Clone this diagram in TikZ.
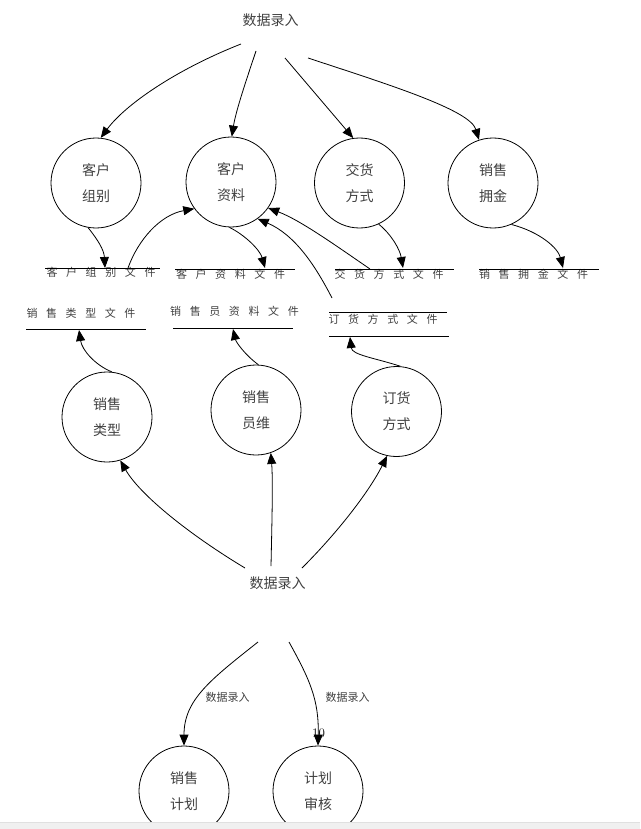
\documentclass[tikz,border=0pt]{standalone}
\usepackage{fontspec}
\newfontfamily\cjk{Noto Sans CJK SC}
\usepackage{xcolor}
\usepackage{tikz}
\usetikzlibrary{arrows.meta}
\newcommand\fgap{\hspace{8.6pt}}

\begin{document}
\begin{tikzpicture}[x=1pt,y=-1pt,>={Triangle[length=11pt,width=9pt]},line width=0.8pt,
  proc/.style={circle,draw,line width=0.8pt,minimum size=90pt,inner sep=0pt,align=center,
    font=\cjk\fontsize{14}{26}\selectfont,text=black!75},
  store/.style={font=\cjk\fontsize{11}{11}\selectfont,text=black!75,inner sep=0pt},
  src/.style={font=\cjk\fontsize{14}{14}\selectfont,text=black!75},
  flowlbl/.style={font=\cjk\fontsize{11}{11}\selectfont,text=black!75}]
  \useasboundingbox (0,0) rectangle (640,829);

  \node[src] (in1) at (270.5,20) {数据录入};
  \node[src] (in2) at (277.5,583) {数据录入};

  \node[proc] (zb) at (96,183) {客户\\组别};
  \node[proc] (zl) at (231,182) {客户\\资料};
  \node[proc] (jh) at (359.5,183) {交货\\方式};
  \node[proc] (yj) at (493,183) {销售\\拥金};
  \node[proc] (lx) at (107,417) {销售\\类型};
  \node[proc] (yy) at (256,410) {销售\\员维};
  \node[proc] (dh) at (396.5,411.5) {订货\\方式};
  \node[proc] (sj) at (184,791) {销售\\计划};
  \node[proc] (sh) at (318,791) {计划\\审核};

  \node[store] (fzb) at (101,272) {客\fgap 户\fgap 组\fgap 别\fgap 文\fgap 件};
  \node[store] (fzl) at (230.5,274) {客\fgap 户\fgap 资\fgap 料\fgap 文\fgap 件};
  \node[store] (fjh) at (389,274) {交\fgap 货\fgap 方\fgap 式\fgap 文\fgap 件};
  \node[store] (fyj) at (533.5,274) {销\fgap 售\fgap 拥\fgap 金\fgap 文\fgap 件};
  \node[store] (flx) at (81,313) {销\fgap 售\fgap 类\fgap 型\fgap 文\fgap 件};
  \node[store] (fyy) at (234.5,311) {销\fgap 售\fgap 员\fgap 资\fgap 料\fgap 文\fgap 件};
  \node[store] (fdh) at (383,319) {订\fgap 货\fgap 方\fgap 式\fgap 文\fgap 件};

  \draw (45,268) -- (160,268);
  \draw (175,269) -- (295,269);
  \draw (335,269) -- (454,269);
  \draw (479,269) -- (599,269);
  \draw (26,329) -- (146,329);
  \draw (173,328) -- (293,328);
  \draw (329,312) -- (447,312);
  \draw (329,336) -- (449,336);

  \coordinate (t1) at (241,44);
  \coordinate (t2) at (256,51);
  \coordinate (t3) at (285,58);
  \coordinate (t4) at (308,58);
  \coordinate (pzb1) at (105,268);
  \coordinate (pzb2) at (128,268);
  \coordinate (pzl) at (265,268);
  \coordinate (pjh1) at (370,269);
  \coordinate (pjh2) at (403,268);
  \coordinate (pyj) at (563,268);
  \coordinate (pdh1) at (332,298);
  \coordinate (plx) at (79,330);
  \coordinate (pyy) at (233,329);
  \coordinate (pdh2) at (350,337);
  \coordinate (m1) at (245,568);
  \coordinate (m2) at (271,566);
  \coordinate (m3) at (302,568);
  \coordinate (b1) at (258,642);
  \coordinate (b2) at (289,642);

  \draw[->] (t1) .. controls (175,70) and (125,105) .. (zb.84);
  \draw[->] (t2) .. controls (248,75) and (236,110) .. (zl.89);
  \draw[->] (t3) -- (jh.98);
  \draw[->] (t4) .. controls (390,85) and (470,110) .. (yj.108);

  \draw[->] (zb.-100) .. controls (98,240) and (104,250) .. (pzb1);
  \draw[->] (pzb2) .. controls (138,240) and (160,215) .. (zl.216);
  \draw[->] (zl.-92) .. controls (245,235) and (260,250) .. (pzl);
  \draw[->] (pjh1) .. controls (335,245) and (300,220) .. (zl.-35);
  \draw[->] (pdh1) .. controls (315,265) and (295,235) .. (zl.-54);
  \draw[->] (jh.-65) .. controls (392,235) and (400,250) .. (pjh2);
  \draw[->] (yj.-66) .. controls (540,232) and (558,248) .. (pyj);

  \draw[->] (lx.84) .. controls (95,365) and (82,350) .. (plx);
  \draw[->] (yy.87) .. controls (245,355) and (236,342) .. (pyy);
  \draw[->] (dh.85) .. controls (375,358) and (352,355) .. (pdh2);

  \draw[->] (m1) .. controls (190,535) and (140,495) .. (lx.-73);
  \draw[->] (m2) .. controls (272,520) and (273,480) .. (yy.-71);
  \draw[->] (m3) .. controls (340,530) and (370,490) .. (dh.-102);

  \draw[->] (b1) .. controls (210,680) and (184,700) .. (sj.90);
  \draw[->] (b2) .. controls (310,680) and (319,700) .. (sh.90);
  \node[flowlbl] (l1) at (227.5,697) {数据录入};
  \node[flowlbl] (l2) at (347.5,697) {数据录入};
  \node[font=\fontsize{13}{13}\selectfont] (pg) at (318.5,733) {10};

  \fill[black!6] (0,822) rectangle (640,829);
  \draw[black!12,line width=0.6pt] (0,822) -- (640,822);
\end{tikzpicture}
\end{document}
